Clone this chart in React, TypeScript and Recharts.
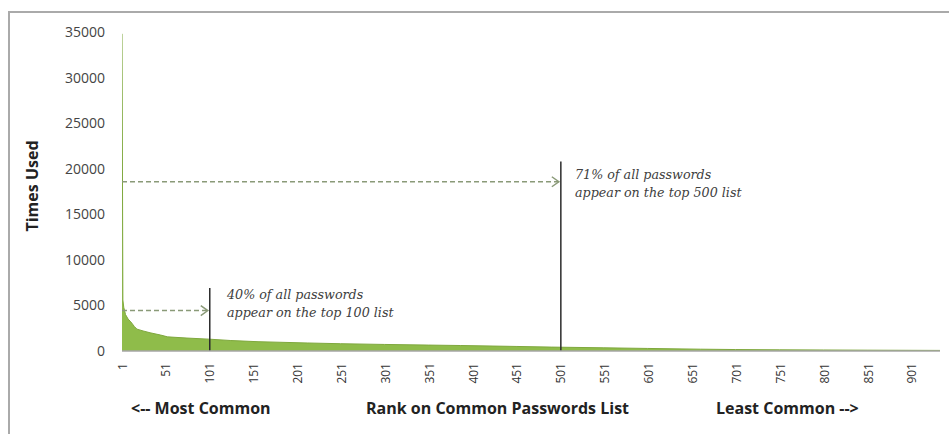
import React from "react";
import { ComposedChart, Area, XAxis, YAxis, ReferenceLine } from "recharts";

// rank on the list -> times used
const ranks = [1, 2, 3, 5, 8, 11, 15, 18, 25, 33, 45, 53, 75, 100, 125, 156, 212, 250, 300, 350, 387, 450, 490, 550, 600, 660, 700, 750, 800, 850, 900, 933];
const timesUsed = [34800, 5600, 4800, 4000, 3500, 3200, 2700, 2400, 2200, 2000, 1750, 1550, 1420, 1300, 1150, 1020, 880, 800, 720, 650, 600, 500, 430, 350, 280, 200, 160, 130, 110, 90, 75, 65];
const rankTicks = [1, 51, 101, 151, 201, 251, 301, 351, 401, 451, 501, 551, 601, 651, 701, 751, 801, 851, 901];
const yTicks = [0, 5000, 10000, 15000, 20000, 25000, 30000, 35000];

// markers: cut-off rank, height of the vertical line, level of the dashed arrow
const cutoffs = [
  { rank: 101, top: 6900, arrowAt: 4430 },
  { rank: 501, top: 20800, arrowAt: 18570 },
];

const data = ranks.map((r, i) => ({ rank: r, used: timesUsed[i] }));

const FONT = "'Open Sans', 'Noto Sans', sans-serif";
const NOTE_FONT = "'DejaVu Serif', serif";

function RankTick(props: any) {
  const { x, y, payload } = props;
  return (
    <text
      x={x}
      y={y}
      transform={`rotate(-90 ${x} ${y})`}
      textAnchor="end"
      dominantBaseline="central"
      fontSize={12}
      fontFamily={FONT}
      fill="#333"
    >
      {payload.value}
    </text>
  );
}

function DashedArrow(props: any) {
  const { x1, y1, x2, y2 } = props;
  return (
    <g>
      <line x1={x1} y1={y1} x2={x2 - 2} y2={y2} stroke="#8a9a78" strokeWidth={1.5} strokeDasharray="5 3" />
      <path
        d={`M${x2 - 9},${y2 - 5} L${x2 - 2},${y2} L${x2 - 9},${y2 + 5}`}
        fill="none"
        stroke="#8a9a78"
        strokeWidth={1.5}
      />
    </g>
  );
}

const noteStyle: React.CSSProperties = {
  position: "absolute",
  fontFamily: NOTE_FONT,
  fontStyle: "italic",
  fontSize: 12.7,
  lineHeight: "18px",
  color: "#404040",
  whiteSpace: "nowrap",
};

const axisTitle: React.CSSProperties = {
  position: "absolute",
  fontFamily: FONT,
  fontWeight: 700,
  fontSize: 16,
  color: "#222",
  whiteSpace: "nowrap",
};

export default function App() {
  return (
    <div style={{ position: "absolute", left: 0, top: 0, width: 949, height: 434, background: "#fff", overflow: "hidden" }}>
      <div style={{ position: "absolute", left: 8, top: 11, right: 0, bottom: 0, borderTop: "2px solid #aaa", borderLeft: "2px solid #aaa" }} />
      <ComposedChart
        width={949}
        height={434}
        data={data}
        margin={{ top: 32, right: 9, bottom: 43, left: 62 }}
        style={{ position: "absolute", left: 0, top: 0 }}
      >
        <XAxis
          dataKey="rank"
          type="number"
          domain={[1, 933]}
          ticks={rankTicks}
          interval={0}
          allowDataOverflow
          height={40}
          tickLine={false}
          axisLine={{ stroke: "#a6a6a6", strokeWidth: 1.5 }}
          tick={<RankTick />}
          tickMargin={6}
        />
        <YAxis
          type="number"
          domain={[0, 35000]}
          ticks={yTicks}
          interval={0}
          width={60}
          axisLine={false}
          tickLine={false}
          tickSize={0}
          tickMargin={17}
          tick={{ fontSize: 14, fontFamily: FONT, fill: "#444" }}
        />
        <Area
          type="linear"
          dataKey="used"
          stroke="#7fa83e"
          strokeWidth={1}
          fill="#8fbc4a"
          fillOpacity={1}
          isAnimationActive={false}
        />
        {cutoffs.map((c) => (
          <ReferenceLine
            key={`v${c.rank}`}
            segment={[{ x: c.rank, y: 0 }, { x: c.rank, y: c.top }]}
            stroke="#2b2b2b"
            strokeWidth={1.5}
          />
        ))}
        {cutoffs.map((c) => (
          <ReferenceLine
            key={`a${c.rank}`}
            segment={[{ x: 1, y: c.arrowAt }, { x: c.rank, y: c.arrowAt }]}
            shape={<DashedArrow />}
          />
        ))}
      </ComposedChart>

      <div style={{ ...axisTitle, left: 32, top: 186, transform: "translate(-50%, -50%) rotate(-90deg)" }}>Times Used</div>
      <div style={{ ...axisTitle, left: 131, top: 397 }}>&lt;-- Most Common</div>
      <div style={{ ...axisTitle, left: 366, top: 397 }}>Rank on Common Passwords List</div>
      <div style={{ ...axisTitle, left: 716, top: 397 }}>Least Common --&gt;</div>

      <div style={{ ...noteStyle, left: 227, top: 286 }}>
        40% of all passwords
        <br />
        appear on the top 100 list
      </div>
      <div style={{ ...noteStyle, left: 575, top: 166 }}>
        71% of all passwords
        <br />
        appear on the top 500 list
      </div>
    </div>
  );
}
